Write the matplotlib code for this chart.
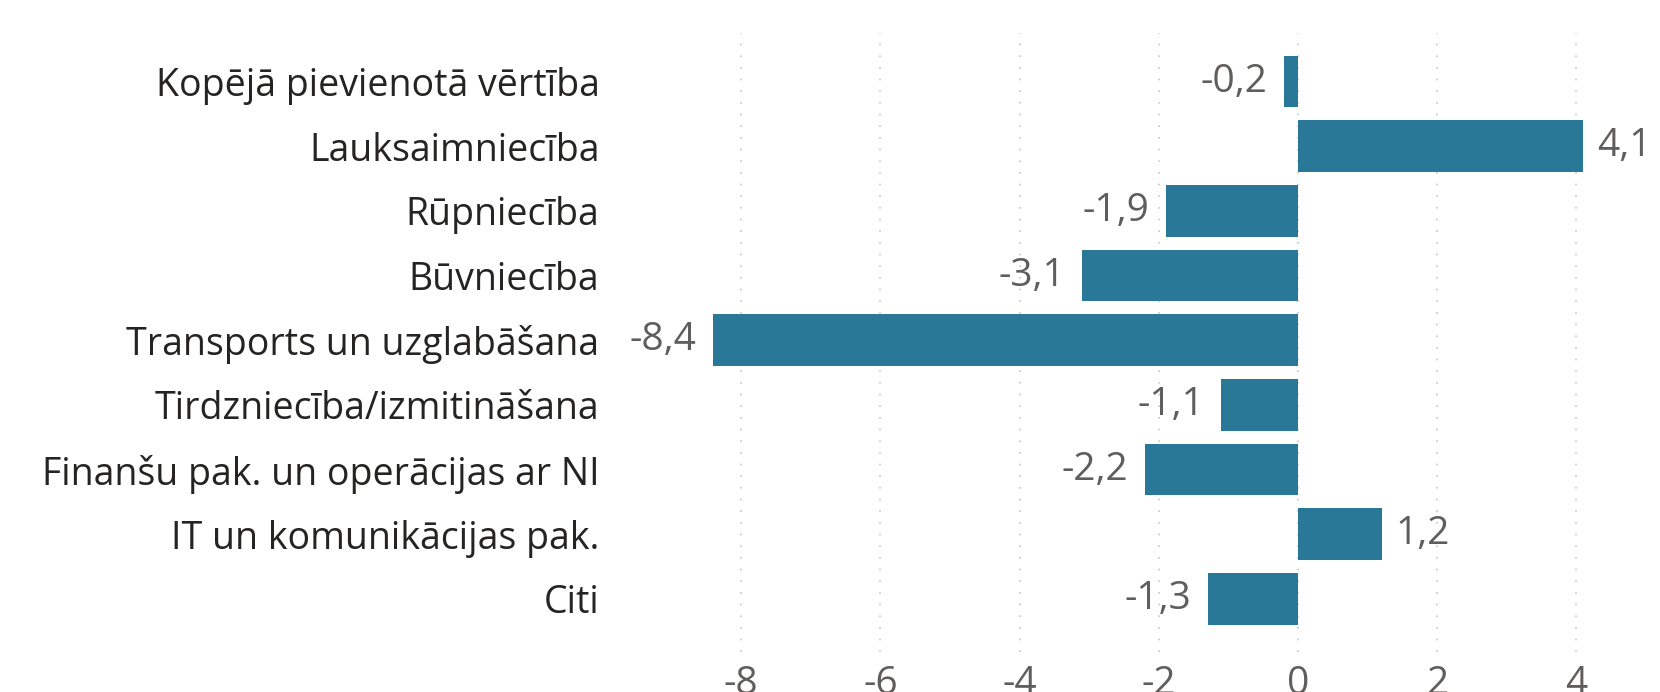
import matplotlib
matplotlib.use("Agg")
import matplotlib.pyplot as plt

categories = [
    "Kopējā pievienotā vērtība",
    "Lauksaimniecība",
    "Rūpniecība",
    "Būvniecība",
    "Transports un uzglabāšana",
    "Tirdzniecība/izmitināšana",
    "Finanšu pak. un operācijas ar NI",
    "IT un komunikācijas pak.",
    "Citi",
]
values = [-0.2, 4.1, -1.9, -3.1, -8.4, -1.1, -2.2, 1.2, -1.3]
xticks = [-8, -6, -4, -2, 0, 2, 4]

BAR = "#2A7898"
LABEL = "#252423"
GRAY = "#605E5C"
plt.rcParams["font.family"] = ["Open Sans", "DejaVu Sans"]

W, H = 1660, 692
fig = plt.figure(figsize=(W / 100, H / 100), dpi=100)
L, R = 671.6, 1646.0
T, B = 33.0, 652.0
ax = fig.add_axes([L / W, (H - B) / H, (R - L) / W, (B - T) / H])

y = list(range(len(categories)))
ax.barh(y, values, height=0.8, color=BAR, zorder=2)
ax.set_xlim(-9, 5)
ax.set_ylim(8.82, -0.75)

ax.set_xticks(xticks)
ax.set_xticklabels([str(t) for t in xticks], fontsize=28, color=GRAY)
ax.set_yticks(y)
ax.set_yticklabels(categories, fontsize=27, color=LABEL)
ax.tick_params(axis="both", length=0)
ax.tick_params(axis="y", pad=52)
ax.tick_params(axis="x", pad=9)
ax.grid(axis="x", color="#C8C6C4", linestyle=(0, (1, 6)), linewidth=1.2, zorder=0)
ax.grid(axis="y", visible=False)
for s in ax.spines.values():
    s.set_visible(False)

for yi, v in zip(y, values):
    txt = f"{v:.1f}".replace(".", ",")
    if v < 0:
        ax.annotate(txt, (v, yi), xytext=(-12, 0), textcoords="offset points",
                    ha="right", va="center", fontsize=28, color=GRAY)
    else:
        ax.annotate(txt, (v, yi), xytext=(10, 0), textcoords="offset points",
                    ha="left", va="center", fontsize=28, color=GRAY)

fig.savefig("out.png", dpi=100)
